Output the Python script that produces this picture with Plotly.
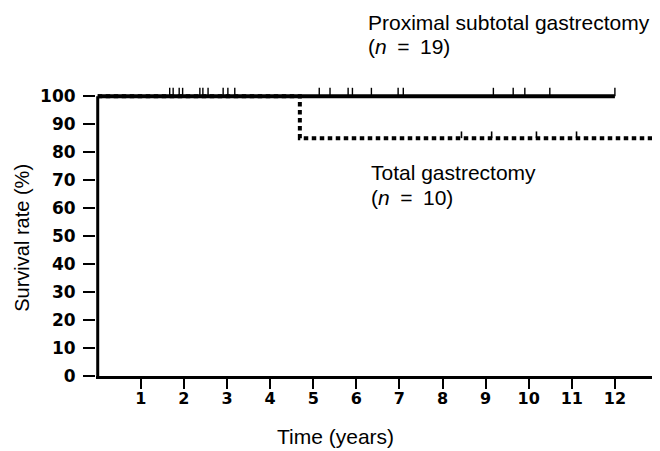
import plotly.graph_objects as go

# ---- data ----
years_ticks = [1, 2, 3, 4, 5, 6, 7, 8, 9, 10, 11, 12]
y_ticks = [0, 10, 20, 30, 40, 50, 60, 70, 80, 90, 100]

# Proximal subtotal gastrectomy (no deaths)
psg_time = [0, 12.0]
psg_surv = [100, 100]
psg_censor = [1.67, 1.75, 1.89, 1.97, 2.37, 2.44, 2.56, 2.91, 3.02, 3.18,
              5.14, 5.39, 5.81, 5.91, 6.35, 6.97, 7.09, 9.18, 9.64, 9.91,
              10.49, 12.0]

# Total gastrectomy (one death at ~4.7 years)
tg_time = [0, 4.69, 4.69, 12.95]
tg_surv = [100, 100, 85, 85]
tg_censor = [8.44, 9.14, 10.18, 11.11, 12.9]
tg_censor_surv = 85

text_font = "Liberation Sans, Arial, sans-serif"
tick_font = "DejaVu Sans, sans-serif"

fig = go.Figure()

# y axis drawn as a line from 0 to 100 %
fig.add_trace(go.Scatter(
    x=[0, 0], y=[0, 100], mode="lines",
    line=dict(color="black", width=3),
    hoverinfo="skip", showlegend=False))

# total gastrectomy dotted curve
fig.add_trace(go.Scatter(
    x=tg_time, y=tg_surv, mode="lines",
    line=dict(color="black", width=4, dash="4.5px,3.5px"),
    hoverinfo="skip", showlegend=False))
fig.add_trace(go.Scatter(
    x=tg_censor, y=[tg_censor_surv] * len(tg_censor), mode="markers",
    marker=dict(size=1, opacity=0),
    error_y=dict(type="data", array=[2.4] * len(tg_censor),
                 arrayminus=[0] * len(tg_censor), width=0,
                 thickness=1.6, color="black"),
    hoverinfo="skip", showlegend=False))

# proximal subtotal gastrectomy solid curve
fig.add_trace(go.Scatter(
    x=psg_time, y=psg_surv, mode="lines",
    line=dict(color="black", width=4),
    hoverinfo="skip", showlegend=False))
fig.add_trace(go.Scatter(
    x=psg_censor, y=[100] * len(psg_censor), mode="markers",
    marker=dict(size=1, opacity=0),
    error_y=dict(type="data", array=[3.0] * len(psg_censor),
                 arrayminus=[0] * len(psg_censor), width=0,
                 thickness=1.4, color="black"),
    hoverinfo="skip", showlegend=False))

# page body has an 8px default margin; compensate
OFF = 8
W, H = 660 - OFF, 451 - OFF
L, R, T, B = 88.3, 2, 76.8, 75
pw, ph = W - L - R, H - T - B

fig.update_xaxes(
    range=[-0.04, 13], tickmode="array", tickvals=years_ticks,
    ticktext=["<b>%d</b>" % v for v in years_ticks],
    ticks="outside", ticklen=10, tickwidth=1.5, tickcolor="black",
    showline=True, linewidth=3, linecolor="black",
    showgrid=False, zeroline=False, ticklabelstandoff=-4,
    tickfont=dict(family=tick_font, size=16, color="black"))
fig.update_yaxes(
    range=[0, 104], tickmode="array", tickvals=y_ticks,
    ticktext=["<b>%d</b>" % v for v in y_ticks],
    ticks="outside", ticklen=12, tickwidth=1.5, tickcolor="black",
    showline=False, showgrid=False, zeroline=False, ticklabelstandoff=4,
    tickfont=dict(family=tick_font, size=17, color="black"))


def px_x(px):
    return (px - OFF - L) / pw


def px_y(py):
    return (H - B - (py - OFF)) / ph


SP = "&#8194;"
annotations = [
    dict(text="Proximal subtotal gastrectomy", x=px_x(366), y=px_y(22),
         xanchor="left", yanchor="middle", size=21),
    dict(text="(<i>n</i>" + SP + "=" + SP + "19)", x=px_x(366), y=px_y(46),
         xanchor="left", yanchor="middle", size=21),
    dict(text="Total gastrectomy", x=px_x(369), y=px_y(172),
         xanchor="left", yanchor="middle", size=21),
    dict(text="(<i>n</i>" + SP + "=" + SP + "10)", x=px_x(369), y=px_y(197),
         xanchor="left", yanchor="middle", size=21),
    dict(text="Time (years)", x=px_x(336), y=px_y(437),
         xanchor="center", yanchor="middle", size=21),
    dict(text="Survival rate (%)", x=px_x(22), y=px_y(238),
         xanchor="center", yanchor="middle", textangle=-90, size=20),
]
for a in annotations:
    sz = a.pop("size")
    a.update(xref="paper", yref="paper", showarrow=False,
             font=dict(family=text_font, size=sz, color="black"))

fig.update_layout(
    width=W, height=H,
    margin=dict(l=L, r=R, t=T, b=B),
    paper_bgcolor="white", plot_bgcolor="white",
    annotations=annotations,
)

fig.write_html("out.html")
